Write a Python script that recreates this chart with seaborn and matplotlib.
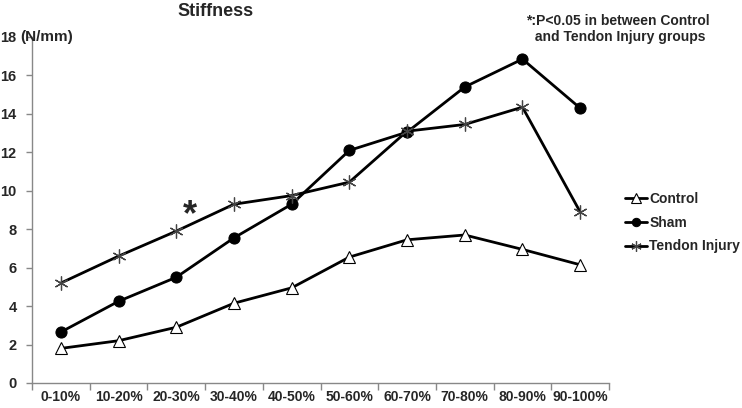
import numpy as np
import pandas as pd
import matplotlib
matplotlib.use("Agg")
import matplotlib.pyplot as plt
import seaborn as sns

# data
categories = ["0-10%", "10-20%", "20-30%", "30-40%", "40-50%",
              "50-60%", "60-70%", "70-80%", "80-90%", "90-100%"]
control = [1.8, 2.2, 2.9, 4.15, 4.95, 6.55, 7.45, 7.7, 6.95, 6.15]
sham = [2.65, 4.25, 5.5, 7.55, 9.3, 12.1, 13.05, 15.4, 16.85, 14.3]
tendon_injury = [5.2, 6.6, 7.9, 9.3, 9.75, 10.45, 13.1, 13.45, 14.35, 8.9]
y_ticks = [0, 2, 4, 6, 8, 10, 12, 14, 16, 18]

sns.set_style("white")
plt.rcParams['font.family'] = ['Liberation Sans', 'DejaVu Sans']

fig = plt.figure(figsize=(7.42, 4.08), dpi=100)
ax = fig.add_axes([32 / 742, 1 - 383 / 408, (609 - 32) / 742, (383 - 37) / 408])

x = np.arange(len(categories))
df = pd.DataFrame({"x": x, "Control": control, "Sham": sham,
                   "Tendon Injury": tendon_injury})

sns.lineplot(data=df, x="x", y="Control", ax=ax, color="black", lw=2,
             marker="^", markersize=9, markerfacecolor="white",
             markeredgecolor="black", markeredgewidth=0.8, label="Control")
sns.lineplot(data=df, x="x", y="Sham", ax=ax, color="black", lw=2,
             marker="o", markersize=8, markerfacecolor="black",
             markeredgecolor="black", label="Sham")
sns.lineplot(data=df, x="x", y="Tendon Injury", ax=ax, color="black", lw=2,
             marker=(6, 2, 0), markersize=10, markeredgecolor="#444444",
             markeredgewidth=0.9, label="Tendon Injury")

ax.set_xlim(-0.5, len(categories) - 0.5)
ax.set_ylim(0, 18)
ax.set_yticks(y_ticks)
ax.set_yticklabels([str(v) for v in y_ticks], fontsize=10.5, fontweight="bold")
ax.set_xticks(x)
ax.set_xticklabels(categories, fontsize=10, fontweight="bold")
ax.set_xticks(np.arange(-0.5, len(categories)), minor=True)
ax.tick_params(axis="x", which="major", length=0, pad=5)
ax.tick_params(axis="x", which="minor", length=5, color="#888888", width=1,
               direction="out", bottom=True)
ax.tick_params(axis="y", length=4, color="#888888", width=1,
               direction="out", left=True, pad=7)
ax.set_xlabel("")
ax.set_ylabel("")

for side in ["top", "right"]:
    ax.spines[side].set_visible(False)
for side in ["left", "bottom"]:
    ax.spines[side].set_color("#888888")
    ax.spines[side].set_linewidth(1)

# significance mark
ax.text(2.23, 8.7, "*", fontsize=26, fontweight="bold", ha="center", va="center")

fig.text(216 / 742, 1 - 12 / 408, "Stiffness", fontsize=13, fontweight="bold",
         ha="center", va="center")
fig.text(20 / 742, 1 - 37 / 408, "(N/mm)", fontsize=11, fontweight="bold",
         ha="left", va="center")
fig.text(618 / 742, 1 - 29 / 408,
         "*:P<0.05 in between Control\n and Tendon Injury groups",
         fontsize=10, fontweight="bold", ha="center", va="center",
         linespacing=1.2)

leg = ax.legend(loc="upper left", frameon=False, markerscale=0.75,
                handlelength=1.6, handletextpad=0.15, labelspacing=0.7,
                prop={"weight": "bold", "size": 10}, borderaxespad=0,
                borderpad=0)
leg.set_bbox_to_anchor((625 / 742, 1 - 192 / 408), transform=fig.transFigure)

fig.savefig("out.png", dpi=100)
